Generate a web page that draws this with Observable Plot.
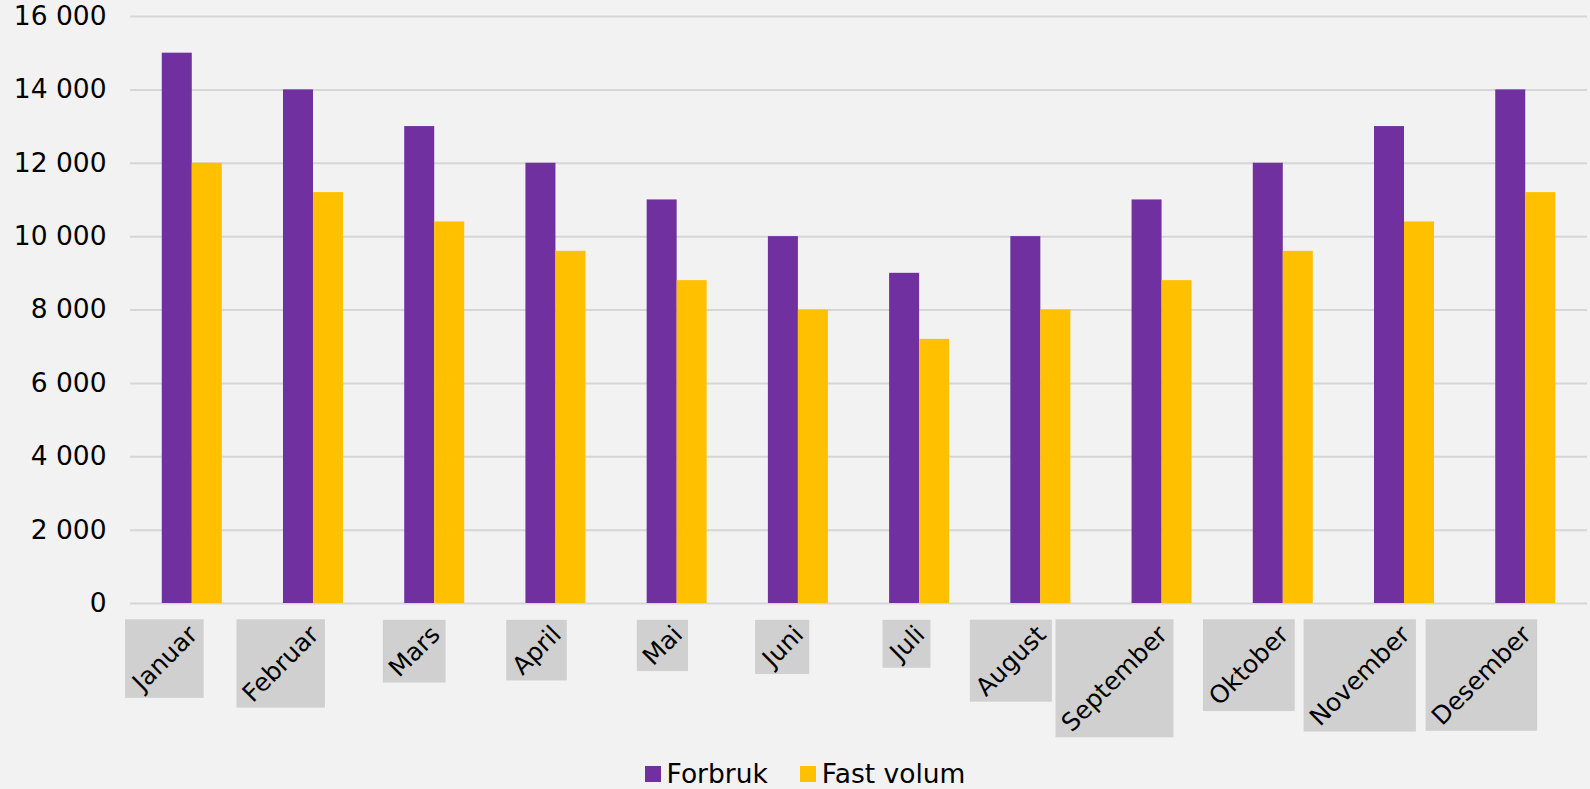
<!DOCTYPE html>
<html>
<head>
<meta charset="utf-8">
<script src="https://cdn.jsdelivr.net/npm/d3@7"></script>
<script src="https://cdn.jsdelivr.net/npm/@observablehq/plot@0.6"></script>
<style>
  html, body { margin: 0; padding: 0; background: #f1f2f1; overflow: hidden; }
  #chart { width: 1590px; font-family: "DejaVu Sans", Verdana, sans-serif; }
  #legend { display: flex; justify-content: center; padding-left: 52px; margin-top: 12px; }
  #legend svg { margin-right: 6px !important; }
  #legend span[class$="-swatch"] { margin-right: 32px !important; }
</style>
</head>
<body>
<div id="chart"></div>
<div id="legend"></div>
<script>
const months = ["Januar","Februar","Mars","April","Mai","Juni","Juli","August","September","Oktober","November","Desember"];
const forbruk = [15000,14000,13000,12000,11000,10000,9000,10000,11000,12000,13000,14000];
const fastVolum = [12000,11200,10400,9600,8800,8000,7200,8000,8800,9600,10400,11200];
const seriesNames = ["Forbruk","Fast volum"];
const seriesColors = ["#7030a0","#ffc000"];
const yTicks = [0,2000,4000,6000,8000,10000,12000,14000,16000];

const width = 1590, height = 745;
const marginLeft = 130, marginRight = 3, marginTop = 16, marginBottom = 142;
const paddingInner = 0.505, paddingOuter = 0.262;
const step = (width - marginLeft - marginRight) / (months.length - paddingInner + 2 * paddingOuter);
const half = step * (1 - paddingInner) / 2;

const rows = months.map((m, i) => ({month: m, forbruk: forbruk[i], fast: fastVolum[i]}));
const fmt = d => d3.format(",")(d).replace(/,/g, " ");

const plot = Plot.plot({
  width, height, marginLeft, marginRight, marginTop, marginBottom,
  style: {background: "transparent", fontFamily: "'DejaVu Sans', Verdana, sans-serif", fontSize: "25px", color: "#000"},
  x: {domain: months, paddingInner, paddingOuter, round: false, label: null},
  y: {domain: [0, 16000], label: null},
  color: {domain: seriesNames, range: seriesColors},
  marks: [
    Plot.gridY(yTicks, {stroke: "#d6d6d6", strokeOpacity: 1, strokeWidth: 2}),
    Plot.barY(rows, {x: "month", y: "forbruk", fill: seriesColors[0], insetRight: half}),
    Plot.barY(rows, {x: "month", y: "fast", fill: seriesColors[1], insetLeft: half}),
    Plot.axisY(yTicks, {tickSize: 0, tickPadding: 24, tickFormat: fmt, fontSize: 26.5, label: null}),
    Plot.axisX({tickSize: 0, tickRotate: -45, tickPadding: 27, dx: 1, fontSize: 24.8, label: null})
  ]
});
document.getElementById("chart").appendChild(plot);

// grey label boxes behind the rotated month labels
const svgRect = plot.getBoundingClientRect();
const labelG = plot.querySelector('[aria-label="x-axis tick label"]');
if (labelG) {
  const boxG = document.createElementNS("http://www.w3.org/2000/svg", "g");
  labelG.querySelectorAll("text").forEach(t => {
    const r = t.getBoundingClientRect();
    const rect = document.createElementNS("http://www.w3.org/2000/svg", "rect");
    rect.setAttribute("x", r.left - svgRect.left);
    rect.setAttribute("y", r.top - svgRect.top);
    rect.setAttribute("width", r.width);
    rect.setAttribute("height", r.height);
    rect.setAttribute("fill", "#d0d0d0");
    boxG.appendChild(rect);
  });
  labelG.parentNode.insertBefore(boxG, labelG);
}

const legend = Plot.legend({
  color: {domain: seriesNames, range: seriesColors},
  swatchSize: 16,
  style: {fontFamily: "'DejaVu Sans', Verdana, sans-serif", fontSize: "26.5px", color: "#000", background: "transparent"}
});
document.getElementById("legend").appendChild(legend);
</script>
</body>
</html>
